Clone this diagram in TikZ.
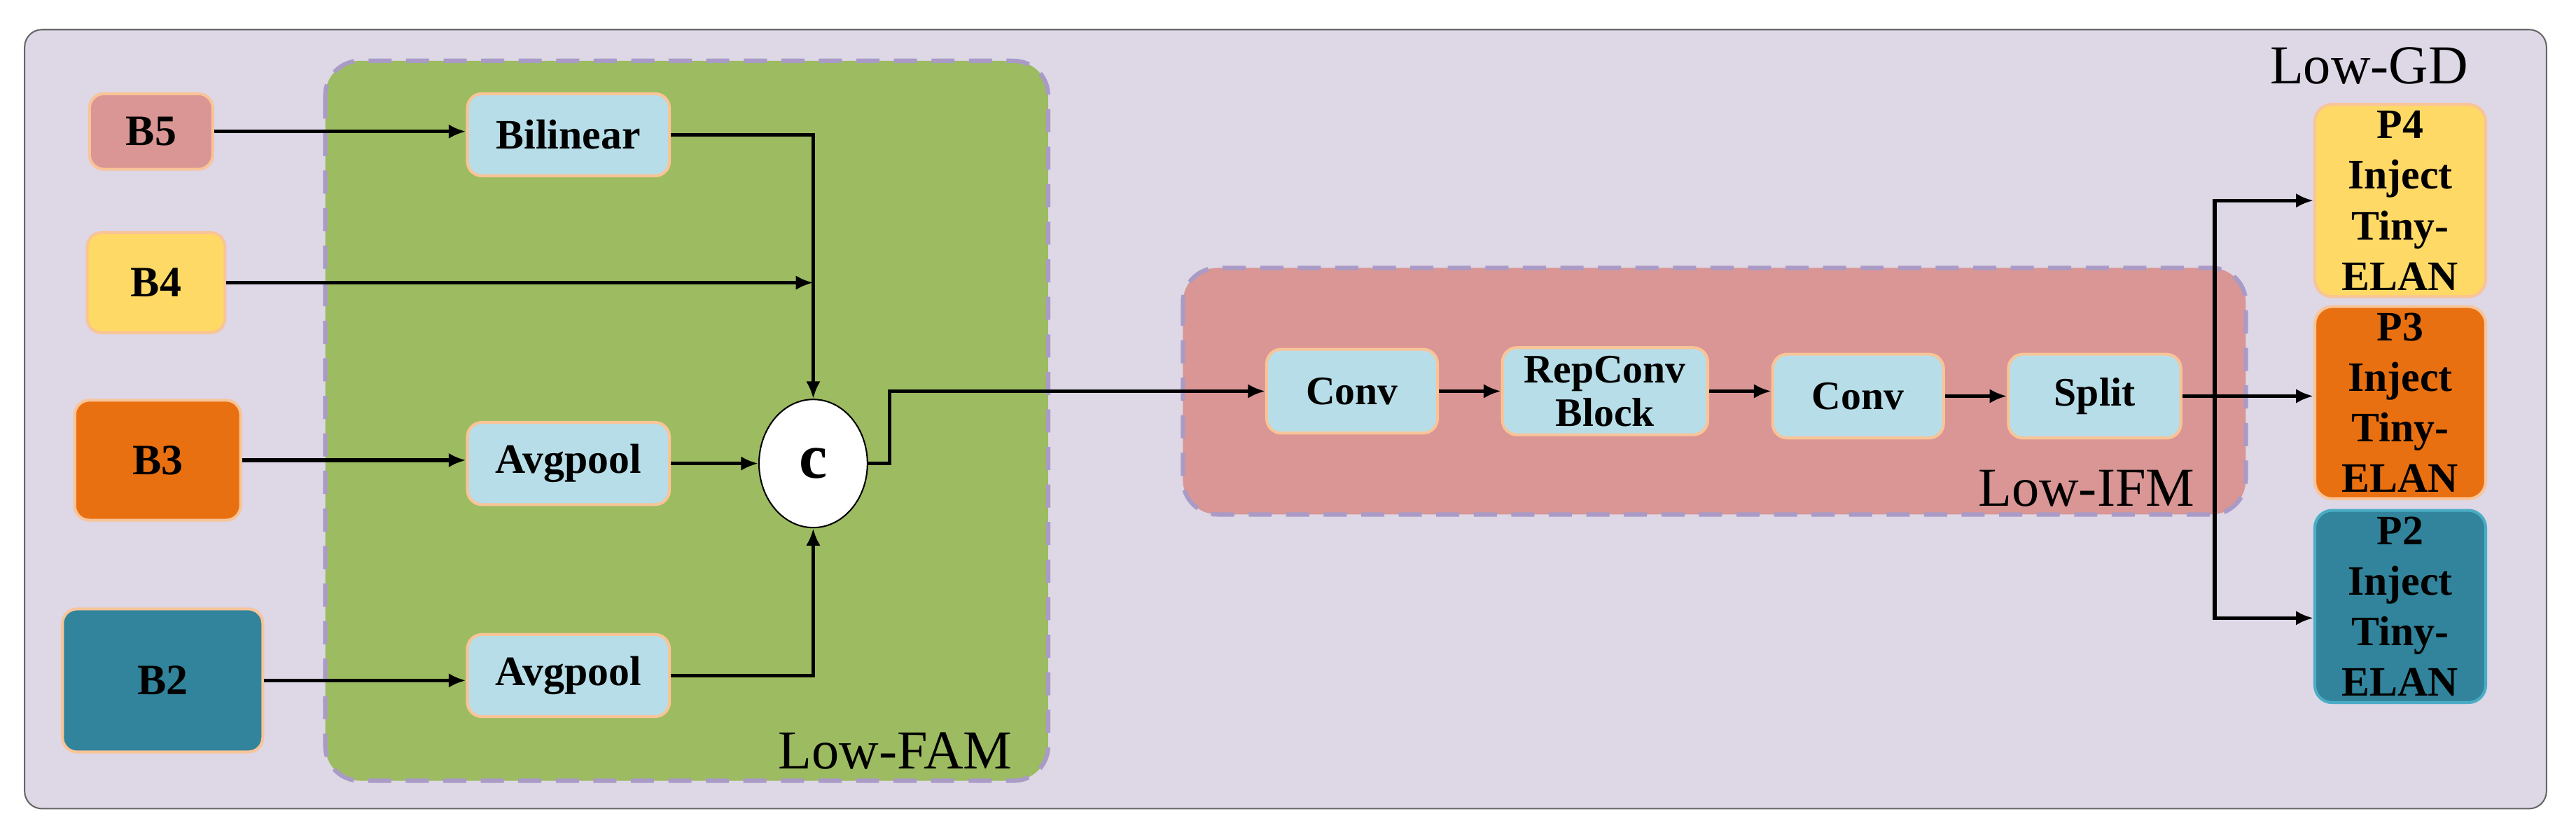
\documentclass[tikz,border=0pt]{standalone}
\usepackage{fontspec}
\setmainfont{Liberation Serif}
\usetikzlibrary{arrows.meta,positioning,shapes.geometric}
\definecolor{bgpurple}{HTML}{DDD7E6}
\definecolor{famgreen}{HTML}{9DBB61}
\definecolor{ifmred}{HTML}{D99694}
\definecolor{opblue}{HTML}{B7DEE8}
\definecolor{opedge}{HTML}{F8C498}
\definecolor{dashpurple}{HTML}{A99BC6}
\definecolor{bfive}{HTML}{D99694}
\definecolor{bfour}{HTML}{FFD966}
\definecolor{bthree}{HTML}{E97011}
\definecolor{btwo}{HTML}{31849B}
\definecolor{ptwoedge}{HTML}{4BACC6}
\tikzset{
    op/.style={rectangle, rounded corners=5pt, draw=opedge, line width=1pt,
        fill=opblue, font=\bfseries, align=center, inner sep=1pt},
    feat/.style={rectangle, rounded corners=5pt, draw=opedge, line width=1pt,
        font=\fontsize{15}{17}\selectfont\bfseries},
    inj/.style={rectangle, rounded corners=6pt, draw=opedge, line width=1pt,
        minimum width=2.08cm, minimum height=2.34cm, align=center, inner sep=0pt,
        font=\fontsize{14.5}{17.5}\selectfont\bfseries},
    group/.style={rounded corners=12pt, draw=dashpurple, line width=1.5pt,
        dash pattern=on 8pt off 5pt},
    flow/.style={-{Latex[length=6pt,width=5pt]}, line width=1.3pt},
    tag/.style={font=\fontsize{19}{20}\selectfont, inner sep=0pt}
}
\begin{document}
\begin{tikzpicture}[x=0.02cm, y=-0.02cm]
    \useasboundingbox (0,0) rectangle (1568,508);
    % outer Low-GD frame
    \draw[fill=bgpurple, draw=black!60, line width=0.5pt, rounded corners=6pt]
        (15,18) rectangle (1550,492);
    \node[tag] (low_gd) at (1442,40) {Low-GD};

    % Low-FAM group
    \draw[group, fill=famgreen] (198,37) rectangle (638,475);
    \node[tag] (low_fam) at (545,457) {Low-FAM};

    % Low-IFM group
    \draw[group, fill=ifmred] (720,163) rectangle (1367,313);
    \node[tag] (low_ifm) at (1270,297) {Low-IFM};

    % backbone features
    \node (b5) [feat, fill=bfive, minimum width=1.5cm, minimum height=0.92cm] at (92,80) {B5};
    \node (b4) [feat, fill=bfour, minimum width=1.68cm, minimum height=1.22cm] at (95,172) {B4};
    \node (b3) [feat, fill=bthree, minimum width=2.02cm, minimum height=1.46cm] at (96,280) {B3};
    \node (b2) [feat, fill=btwo, minimum width=2.44cm, minimum height=1.74cm] at (99,414) {B2};

    % alignment ops
    \node (bilinear) [op, font=\fontsize{14.5}{16}\selectfont\bfseries,
        minimum width=2.46cm, minimum height=1cm] at (346,82) {Bilinear};
    \node (avgpool_a) [op, font=\fontsize{14.5}{16}\selectfont\bfseries,
        minimum width=2.46cm, minimum height=1cm] at (346,282) {Avgpool};
    \node (avgpool_b) [op, font=\fontsize{14.5}{16}\selectfont\bfseries,
        minimum width=2.46cm, minimum height=1cm] at (346,411) {Avgpool};
    \node (concat) [ellipse, draw=black, fill=white, line width=0.5pt,
        minimum width=1.32cm, minimum height=1.56cm, inner sep=0pt,
        font=\fontsize{22}{22}\selectfont\bfseries] at (495,282) {c};

    % fusion ops
    \node (conv_a) [op, font=\fontsize{14}{15}\selectfont\bfseries,
        minimum width=2.08cm, minimum height=1.02cm] at (823,238) {Conv};
    \node (repconv) [op, font=\fontsize{14}{15}\selectfont\bfseries,
        minimum width=2.5cm, minimum height=1.06cm] at (977,238) {RepConv\\Block};
    \node (conv_b) [op, font=\fontsize{14}{15}\selectfont\bfseries,
        minimum width=2.08cm, minimum height=1.02cm] at (1131,241) {Conv};
    \node (split) [op, font=\fontsize{14}{15}\selectfont\bfseries,
        minimum width=2.1cm, minimum height=1.02cm] at (1275,241) {Split};

    % inject outputs
    \node (p4) [inj, fill=bfour] at (1461,122) {P4\\Inject\\Tiny-\\ELAN};
    \node (p3) [inj, fill=bthree] at (1461,245) {P3\\Inject\\Tiny-\\ELAN};
    \node (p2) [inj, fill=btwo, draw=ptwoedge] at (1461,369) {P2\\Inject\\Tiny-\\ELAN};
    \coordinate (fork) at (1348,241);

    \draw[flow] (b5.east) -- (b5.east -| bilinear.west);
    \draw[flow] (b4.east) -- (b4.east -| concat);
    \draw[flow] (b3.east) -- (b3.east -| avgpool_a.west);
    \draw[flow] (b2.east) -- (b2.east -| avgpool_b.west);
    \draw[flow] (bilinear.east) -| (concat.north);
    \draw[flow] (avgpool_a) -- (concat);
    \draw[flow] (avgpool_b.east) -| (concat.south);
    \draw[flow] (concat.east) -- ++(13,0) |- (conv_a.west);
    \draw[flow] (conv_a) -- (repconv);
    \draw[flow] (repconv.east) -- (repconv.east -| conv_b.west);
    \draw[flow] (conv_b) -- (split);
    \draw[flow] (split.east) -- (split.east -| p3.west);
    \draw[flow] (fork) |- (p4.west);
    \draw[flow] (fork) |- ([yshift=-4pt]p2.west);
\end{tikzpicture}
\end{document}
